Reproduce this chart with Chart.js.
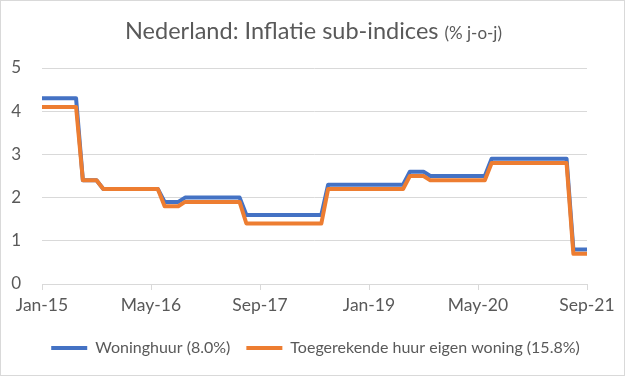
<!DOCTYPE html>
<html>
<head>
<meta charset="utf-8">
<script src="https://cdn.jsdelivr.net/npm/chart.js@4/dist/chart.umd.min.js"></script>
<style>
  html, body { margin: 0; padding: 0; background: #fff; }
  #wrap { position: relative; width: 625px; height: 376px; }
  canvas { display: block; }
</style>
</head>
<body>
<div id="wrap"><canvas id="c" width="625" height="376"></canvas></div>
<script>
// ---- data ----
const months = [
  'Jan-15','Feb-15','Mar-15','Apr-15','May-15','Jun-15','Jul-15','Aug-15','Sep-15','Oct-15','Nov-15','Dec-15',
  'Jan-16','Feb-16','Mar-16','Apr-16','May-16','Jun-16','Jul-16','Aug-16','Sep-16','Oct-16','Nov-16','Dec-16',
  'Jan-17','Feb-17','Mar-17','Apr-17','May-17','Jun-17','Jul-17','Aug-17','Sep-17','Oct-17','Nov-17','Dec-17',
  'Jan-18','Feb-18','Mar-18','Apr-18','May-18','Jun-18','Jul-18','Aug-18','Sep-18','Oct-18','Nov-18','Dec-18',
  'Jan-19','Feb-19','Mar-19','Apr-19','May-19','Jun-19','Jul-19','Aug-19','Sep-19','Oct-19','Nov-19','Dec-19',
  'Jan-20','Feb-20','Mar-20','Apr-20','May-20','Jun-20','Jul-20','Aug-20','Sep-20','Oct-20','Nov-20','Dec-20',
  'Jan-21','Feb-21','Mar-21','Apr-21','May-21','Jun-21','Jul-21','Aug-21','Sep-21'
];
const woninghuur = [
  4.3,4.3,4.3,4.3,4.3,4.3,2.4,2.4,2.4,2.2,2.2,2.2,
  2.2,2.2,2.2,2.2,2.2,2.2,1.9,1.9,1.9,2.0,2.0,2.0,
  2.0,2.0,2.0,2.0,2.0,2.0,1.6,1.6,1.6,1.6,1.6,1.6,
  1.6,1.6,1.6,1.6,1.6,1.6,2.3,2.3,2.3,2.3,2.3,2.3,
  2.3,2.3,2.3,2.3,2.3,2.3,2.6,2.6,2.6,2.5,2.5,2.5,
  2.5,2.5,2.5,2.5,2.5,2.5,2.9,2.9,2.9,2.9,2.9,2.9,
  2.9,2.9,2.9,2.9,2.9,2.9,0.8,0.8,0.8
];
const eigenWoning = [
  4.1,4.1,4.1,4.1,4.1,4.1,2.4,2.4,2.4,2.2,2.2,2.2,
  2.2,2.2,2.2,2.2,2.2,2.2,1.8,1.8,1.8,1.9,1.9,1.9,
  1.9,1.9,1.9,1.9,1.9,1.9,1.4,1.4,1.4,1.4,1.4,1.4,
  1.4,1.4,1.4,1.4,1.4,1.4,2.2,2.2,2.2,2.2,2.2,2.2,
  2.2,2.2,2.2,2.2,2.2,2.2,2.5,2.5,2.5,2.4,2.4,2.4,
  2.4,2.4,2.4,2.4,2.4,2.4,2.8,2.8,2.8,2.8,2.8,2.8,
  2.8,2.8,2.8,2.8,2.8,2.8,0.7,0.7,0.7
];
const seriesNames = ['Woninghuur (8.0%)', 'Toegerekende huur eigen woning (15.8%)'];
const yTicks = [0, 1, 2, 3, 4, 5];
const titleMain = 'Nederland: Inflatie sub-indices';
const titleSub = '(% j-o-j)';

// ---- chart ----
const FONT = 'Lato, "Open Sans", sans-serif';
const TXT = '#595959';
const GRID = '#d9d9d9';

const toPoints = arr => arr.map((v, i) => ({ x: i, y: v }));

const frameAndTitle = {
  id: 'frameAndTitle',
  afterLayout(chart) {
    const lg = chart.legend;
    if (lg) { lg.left += 22; lg.right += 22; }
  },
  beforeDraw(chart) {
    const ctx = chart.ctx;
    ctx.save();
    ctx.fillStyle = '#fff';
    ctx.fillRect(0, 0, chart.width, chart.height);
    ctx.strokeStyle = GRID;
    ctx.lineWidth = 1;
    ctx.strokeRect(0.5, 0.5, chart.width - 1, chart.height - 1);
    ctx.restore();
  },
  afterDraw(chart) {
    const ctx = chart.ctx;
    ctx.save();
    ctx.fillStyle = TXT;
    ctx.textBaseline = 'alphabetic';
    const f1 = '23.5px ' + FONT, f2 = '17px ' + FONT;
    ctx.font = f1; const w1 = ctx.measureText(titleMain + ' ').width;
    ctx.font = f2; const w2 = ctx.measureText(titleSub).width;
    const x0 = 313.5 - (w1 + w2) / 2;
    ctx.font = f1; ctx.fillText(titleMain + ' ', x0, 38.5);
    ctx.font = f2; ctx.fillText(titleSub, x0 + w1, 38.5);
    ctx.restore();
  }
};

new Chart(document.getElementById('c'), {
  type: 'line',
  data: {
    datasets: [
      { label: seriesNames[0], data: toPoints(woninghuur), borderColor: '#4472C4', backgroundColor: '#4472C4', order: 1 },
      { label: seriesNames[1], data: toPoints(eigenWoning), borderColor: '#ED7D31', backgroundColor: '#ED7D31', order: 0 }
    ]
  },
  options: {
    responsive: false,
    animation: false,
    devicePixelRatio: 1,
    layout: { padding: { top: 68, right: 38, left: 0, bottom: 10 } },
    elements: {
      line: { borderWidth: 4, tension: 0, borderJoinStyle: 'round', borderCapStyle: 'butt' },
      point: { radius: 0, hoverRadius: 0 }
    },
    scales: {
      x: {
        type: 'linear', min: 0, max: months.length - 1,
        afterBuildTicks(scale) {
          scale.ticks = months.map((m, i) => ({ value: i })).filter(t => t.value % 16 === 0);
        },
        afterFit(scale) { scale.height = 40; },
        ticks: {
          autoSkip: false, maxRotation: 0, padding: 5,
          color: TXT, font: { family: FONT, size: 17.5 },
          callback: v => months[v]
        },
        grid: { drawOnChartArea: false, drawTicks: true, tickLength: 6, color: GRID },
        border: { color: GRID, width: 1 }
      },
      y: {
        min: 0, max: 5,
        afterBuildTicks(scale) { scale.ticks = yTicks.map(v => ({ value: v })); },
        afterFit(scale) { scale.width = 42; },
        ticks: { color: TXT, font: { family: FONT, size: 17 }, padding: 21 },
        grid: { color: GRID, drawTicks: false, lineWidth: 1 },
        border: { display: false }
      }
    },
    plugins: {
      legend: {
        position: 'bottom',
        labels: {
          color: TXT, font: { family: FONT, size: 16 },
          boxWidth: 36, boxHeight: 4, padding: 16,
          sort: (a, b) => a.datasetIndex - b.datasetIndex,
          generateLabels(chart) {
            const items = Chart.defaults.plugins.legend.labels.generateLabels(chart);
            items.forEach(it => { it.lineWidth = 0; it.strokeStyle = 'transparent'; });
            return items;
          }
        }
      },
      title: { display: false },
      tooltip: { enabled: false }
    }
  },
  plugins: [frameAndTitle]
});
</script>
</body>
</html>
